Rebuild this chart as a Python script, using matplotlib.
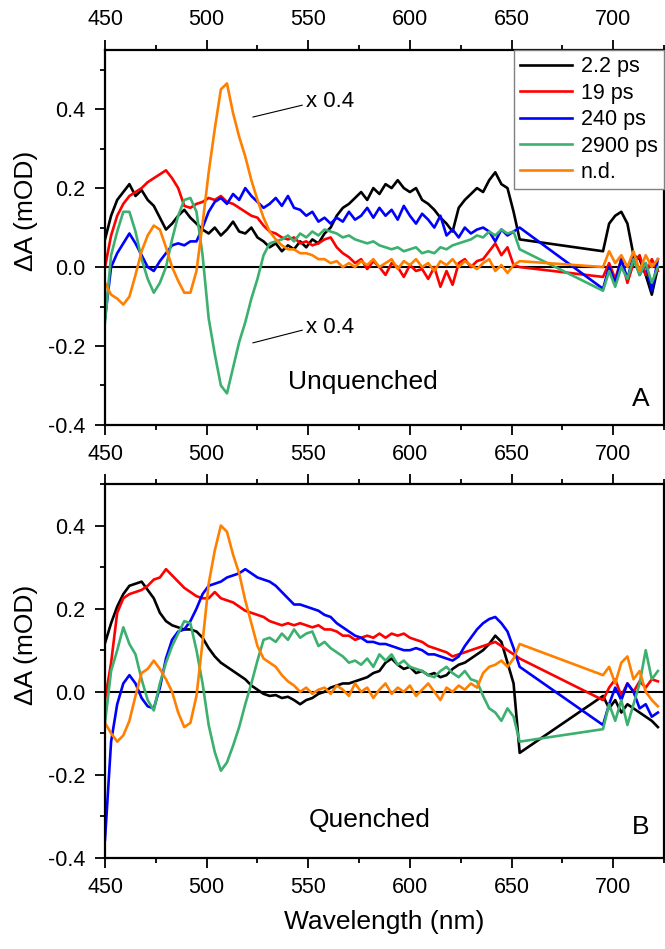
import numpy as np
import matplotlib.pyplot as plt
from matplotlib.ticker import MultipleLocator

plt.rcParams['font.family'] = ['Liberation Sans', 'DejaVu Sans']
plt.rcParams['axes.unicode_minus'] = False

# wavelength grid: main window + red window after the probe gap
wl_main = np.arange(450, 655, 3)
wl_red = np.arange(695, 723, 3)
wavelength = np.concatenate([wl_main, wl_red])

labels = ["2.2 ps", "19 ps", "240 ps", "2900 ps", "n.d."]
colors = ["black", "#ff0000", "#0000ff", "#3cb06e", "#ff8000"]

# ---- panel A : unquenched (n.d. and 2900 ps scaled x 0.4) ----
unq_2p2 = [0.07, 0.13, 0.17, 0.19, 0.21, 0.18, 0.195, 0.17, 0.155, 0.125,
           0.095, 0.11, 0.13, 0.145, 0.125, 0.11, 0.095, 0.085, 0.10, 0.08,
           0.095, 0.115, 0.09, 0.085, 0.10, 0.075, 0.065, 0.05, 0.06, 0.04,
           0.055, 0.045, 0.065, 0.05, 0.07, 0.06, 0.085, 0.10, 0.13, 0.15,
           0.16, 0.175, 0.19, 0.17, 0.20, 0.185, 0.21, 0.20, 0.22, 0.20,
           0.19, 0.20, 0.17, 0.16, 0.145, 0.125, 0.11, 0.09, 0.15, 0.17,
           0.185, 0.20, 0.19, 0.22, 0.24, 0.21, 0.20, 0.14, 0.07,
           0.04, 0.11, 0.13, 0.14, 0.11, 0.03, 0.02, -0.02, -0.07, 0.0]
unq_19 = [0.0, 0.08, 0.13, 0.16, 0.18, 0.19, 0.20, 0.215, 0.225, 0.235,
          0.245, 0.225, 0.20, 0.155, 0.15, 0.16, 0.165, 0.175, 0.17, 0.18,
          0.165, 0.16, 0.15, 0.14, 0.13, 0.125, 0.105, 0.09, 0.085, 0.075,
          0.07, 0.075, 0.06, 0.065, 0.055, 0.06, 0.07, 0.075, 0.05, 0.035,
          0.025, 0.01, 0.02, -0.005, 0.015, 0.0, -0.02, 0.01, 0.0, -0.025,
          0.005, -0.01, -0.005, -0.03, 0.0, -0.05, -0.01, -0.045, 0.01, 0.02,
          0.0, 0.015, 0.02, 0.04, 0.06, 0.03, 0.05, 0.005, 0.0,
          -0.025, 0.01, -0.03, 0.02, -0.04, 0.01, 0.03, -0.02, 0.02, -0.01]
unq_240 = [-0.13, 0.0, 0.035, 0.06, 0.085, 0.06, 0.03, 0.0, -0.01, 0.015,
           0.035, 0.055, 0.06, 0.055, 0.065, 0.065, 0.10, 0.14, 0.165, 0.175,
           0.16, 0.185, 0.17, 0.20, 0.18, 0.165, 0.15, 0.16, 0.175, 0.155,
           0.18, 0.15, 0.145, 0.13, 0.14, 0.115, 0.125, 0.11, 0.125, 0.115,
           0.14, 0.12, 0.13, 0.15, 0.125, 0.15, 0.13, 0.145, 0.12, 0.155,
           0.13, 0.11, 0.135, 0.12, 0.10, 0.13, 0.08, 0.095, 0.075, 0.10,
           0.085, 0.095, 0.10, 0.09, 0.065, 0.095, 0.08, 0.09, 0.10,
           -0.055, 0.0, -0.04, 0.02, -0.03, 0.03, -0.02, 0.01, -0.06, 0.02]
unq_2900 = [-0.14, 0.03, 0.09, 0.14, 0.14, 0.09, 0.02, -0.03, -0.065, -0.04,
            0.0, 0.07, 0.13, 0.17, 0.175, 0.14, 0.03, -0.13, -0.22, -0.30,
            -0.32, -0.255, -0.19, -0.14, -0.08, -0.03, 0.03, 0.06, 0.065, 0.07,
            0.08, 0.065, 0.085, 0.075, 0.09, 0.08, 0.095, 0.09, 0.085, 0.075,
            0.08, 0.07, 0.065, 0.06, 0.065, 0.055, 0.05, 0.045, 0.05, 0.04,
            0.045, 0.05, 0.035, 0.04, 0.035, 0.05, 0.045, 0.055, 0.06, 0.065,
            0.07, 0.08, 0.075, 0.09, 0.08, 0.095, 0.085, 0.09, 0.045,
            -0.06, -0.01, -0.05, 0.0, -0.03, 0.02, -0.02, 0.01, -0.04, 0.0]
unq_nd = [-0.04, -0.07, -0.08, -0.095, -0.075, -0.02, 0.04, 0.08, 0.105, 0.095,
          0.05, 0.0, -0.035, -0.065, -0.065, -0.01, 0.11, 0.24, 0.35, 0.45,
          0.465, 0.39, 0.33, 0.28, 0.22, 0.17, 0.125, 0.09, 0.07, 0.055,
          0.045, 0.045, 0.035, 0.035, 0.03, 0.02, 0.02, 0.01, 0.015, 0.0,
          0.01, 0.0, 0.015, 0.005, 0.02, 0.0, 0.01, 0.02, -0.005, 0.015,
          0.005, 0.02, 0.0, 0.01, -0.01, 0.015, 0.005, 0.02, 0.0, 0.015,
          0.005, -0.005, 0.01, 0.02, -0.01, 0.005, -0.015, 0.005, 0.015,
          0.0, 0.04, 0.01, 0.03, 0.0, 0.04, -0.01, 0.03, 0.0, 0.02]

# ---- panel B : quenched ----
q_2p2 = [0.117, 0.165, 0.205, 0.235, 0.255, 0.26, 0.265, 0.245, 0.225, 0.19,
         0.17, 0.16, 0.155, 0.15, 0.15, 0.145, 0.13, 0.105, 0.085, 0.07,
         0.06, 0.05, 0.04, 0.03, 0.015, 0.005, -0.005, -0.01, -0.008, -0.015,
         -0.012, -0.02, -0.03, -0.02, -0.015, -0.005, 0.0, 0.01, 0.015, 0.02,
         0.02, 0.025, 0.03, 0.035, 0.045, 0.05, 0.07, 0.08, 0.065, 0.055,
         0.06, 0.045, 0.05, 0.04, 0.045, 0.035, 0.04, 0.055, 0.065, 0.07,
         0.08, 0.09, 0.10, 0.115, 0.135, 0.12, 0.07, 0.02, -0.147,
         -0.01, -0.04, -0.02, -0.05, -0.03, -0.04, -0.05, -0.06, -0.07, -0.085]
q_19 = [-0.02, 0.07, 0.19, 0.225, 0.235, 0.24, 0.245, 0.255, 0.27, 0.275,
        0.295, 0.28, 0.265, 0.25, 0.24, 0.23, 0.225, 0.225, 0.24, 0.225,
        0.22, 0.215, 0.205, 0.195, 0.19, 0.185, 0.18, 0.17, 0.165, 0.16,
        0.165, 0.16, 0.165, 0.16, 0.155, 0.16, 0.15, 0.15, 0.145, 0.135,
        0.135, 0.125, 0.13, 0.135, 0.13, 0.14, 0.13, 0.14, 0.135, 0.14,
        0.13, 0.125, 0.12, 0.11, 0.105, 0.10, 0.095, 0.085, 0.09, 0.095,
        0.10, 0.105, 0.11, 0.115, 0.12, 0.11, 0.10, 0.09, 0.08,
        -0.02, 0.01, 0.03, -0.01, 0.02, 0.0, 0.025, 0.01, 0.03, 0.025]
q_240 = [-0.356, -0.12, -0.03, 0.02, 0.04, 0.02, -0.015, -0.035, -0.04, 0.01,
         0.08, 0.125, 0.145, 0.15, 0.17, 0.20, 0.235, 0.255, 0.26, 0.265,
         0.275, 0.28, 0.285, 0.295, 0.285, 0.275, 0.27, 0.265, 0.255, 0.24,
         0.225, 0.21, 0.21, 0.205, 0.20, 0.195, 0.185, 0.18, 0.165, 0.155,
         0.145, 0.135, 0.13, 0.12, 0.12, 0.115, 0.115, 0.11, 0.105, 0.10,
         0.10, 0.105, 0.10, 0.09, 0.09, 0.085, 0.08, 0.075, 0.085, 0.11,
         0.13, 0.15, 0.165, 0.175, 0.18, 0.165, 0.145, 0.105, 0.06,
         -0.08, -0.03, 0.01, -0.02, 0.02, 0.0, -0.04, -0.03, -0.06, -0.05]
q_2900 = [-0.075, 0.05, 0.10, 0.155, 0.115, 0.09, 0.03, -0.02, -0.045, 0.02,
          0.07, 0.11, 0.14, 0.17, 0.165, 0.10, 0.02, -0.08, -0.145, -0.19,
          -0.17, -0.13, -0.085, -0.03, 0.02, 0.075, 0.125, 0.13, 0.12, 0.14,
          0.125, 0.15, 0.13, 0.14, 0.145, 0.11, 0.12, 0.105, 0.095, 0.085,
          0.07, 0.075, 0.065, 0.08, 0.06, 0.09, 0.075, 0.09, 0.065, 0.075,
          0.06, 0.055, 0.05, 0.04, 0.035, 0.05, 0.06, 0.045, 0.035, 0.05,
          0.03, 0.025, -0.01, -0.04, -0.05, -0.07, -0.04, -0.06, -0.12,
          -0.09, -0.03, -0.07, -0.02, -0.08, -0.03, 0.02, 0.10, 0.03, 0.05]
q_nd = [-0.075, -0.10, -0.12, -0.105, -0.07, -0.01, 0.045, 0.055, 0.075, 0.055,
        0.03, 0.0, -0.05, -0.085, -0.075, -0.01, 0.12, 0.26, 0.34, 0.40,
        0.385, 0.33, 0.285, 0.22, 0.165, 0.11, 0.08, 0.07, 0.06, 0.04,
        0.025, 0.015, 0.0, 0.01, -0.005, 0.005, 0.01, -0.005, 0.015, 0.005,
        -0.01, 0.02, 0.0, 0.01, -0.015, 0.005, 0.02, -0.005, 0.01, 0.0,
        0.015, -0.01, 0.005, 0.02, 0.0, -0.02, 0.01, 0.0, 0.015, 0.005,
        0.02, 0.01, 0.045, 0.06, 0.065, 0.075, 0.06, 0.08, 0.115,
        0.04, 0.06, 0.02, 0.07, 0.085, 0.03, 0.05, 0.0, -0.02, -0.035]

unquenched = [unq_2p2, unq_19, unq_240, unq_2900, unq_nd]
quenched = [q_2p2, q_19, q_240, q_2900, q_nd]


def style_axis(ax, ylim, top_labels):
    ax.set_xlim(450, 725)
    ax.set_ylim(*ylim)
    ax.xaxis.set_major_locator(MultipleLocator(50))
    ax.xaxis.set_minor_locator(MultipleLocator(25))
    ax.yaxis.set_major_locator(MultipleLocator(0.2))
    ax.yaxis.set_minor_locator(MultipleLocator(0.1))
    ax.yaxis.set_major_formatter(plt.FormatStrFormatter('%.1f'))
    ax.tick_params(which='both', direction='out', width=1.3, labelsize=15.5,
                   top=True, bottom=True, left=True, right=False,
                   labeltop=top_labels, pad=7)
    ax.tick_params(which='major', length=7)
    ax.tick_params(which='minor', length=3.8)
    for s in ax.spines.values():
        s.set_linewidth(1.6)
    ax.axhline(0, color='black', lw=1.5, zorder=1)
    ax.set_ylabel("ΔA (mOD)", fontsize=19)
    ax.yaxis.set_label_coords(-0.12, 0.57)


def plot_panel(ax, series):
    for vals, lab, col in zip(series, labels, colors):
        ax.plot(wavelength, vals, color=col, lw=1.9, label=lab)


fig = plt.figure(figsize=(6.65, 9.49), dpi=100)
axA = fig.add_axes([0.1579, 0.5522, 0.8406, 0.3952])
axB = fig.add_axes([0.1579, 0.0959, 0.8406, 0.3941])

plot_panel(axA, unquenched)
style_axis(axA, (-0.4, 0.55), True)
axA.legend(loc='upper right', borderaxespad=0, fontsize=15.5, fancybox=False,
           edgecolor='gray', framealpha=1, handlelength=2.4, handletextpad=0.4,
           labelspacing=0.25, borderpad=0.3)
axA.plot([522.8, 547], [0.38, 0.41], color='black', lw=0.8)
axA.text(549, 0.42, "x 0.4", fontsize=16, va='center', ha='left')
axA.plot([522.8, 547], [-0.192, -0.16], color='black', lw=0.8)
axA.text(549, -0.152, "x 0.4", fontsize=16, va='center', ha='left')
axA.text(577, -0.29, "Unquenched", fontsize=19, ha='center', va='center')
axA.text(718, -0.335, "A", fontsize=19, ha='right', va='center')

plot_panel(axB, quenched)
style_axis(axB, (-0.4, 0.5), False)
axB.text(580, -0.308, "Quenched", fontsize=19, ha='center', va='center')
axB.text(718, -0.325, "B", fontsize=19, ha='right', va='center')
axB.set_xlabel("Wavelength (nm)", fontsize=19, labelpad=8)

fig.savefig("out.png", dpi=100)
